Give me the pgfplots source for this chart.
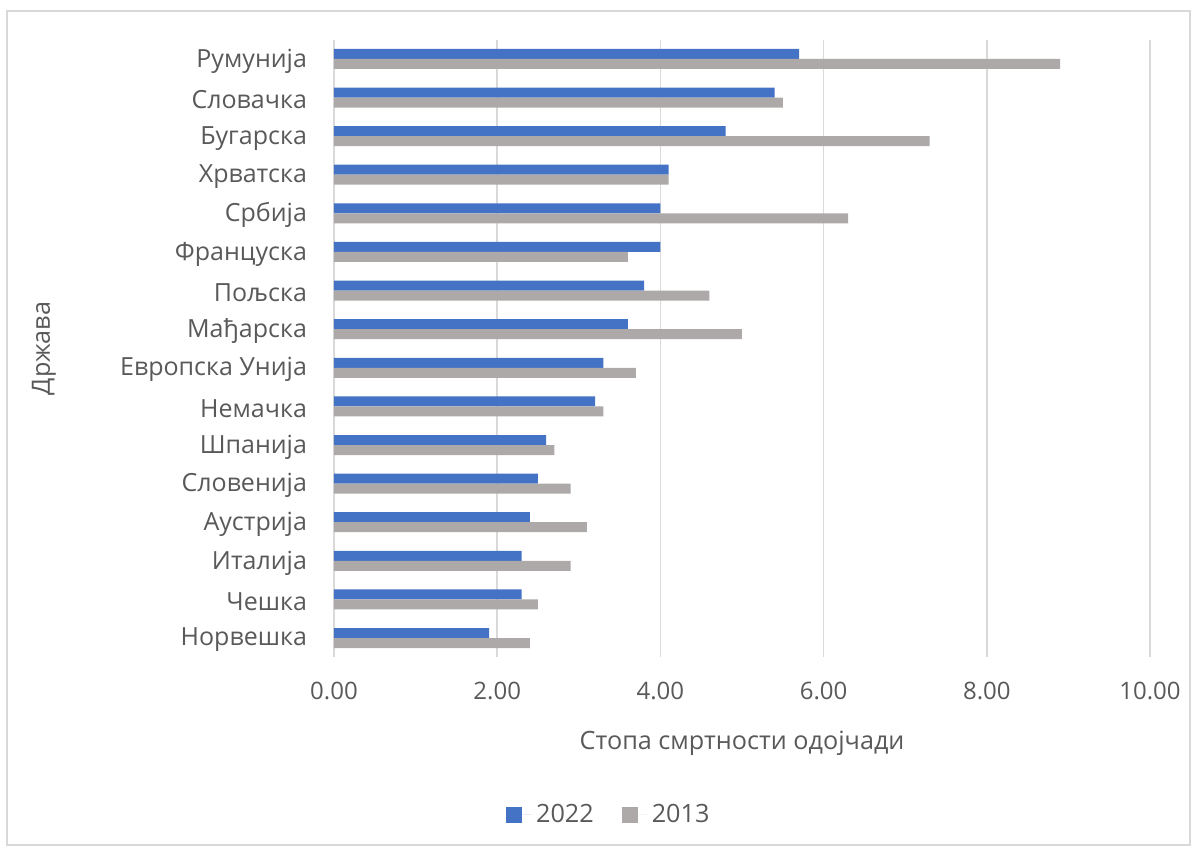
\documentclass[border=0pt]{standalone}
\usepackage{pgfplots}
\pgfplotsset{compat=1.18}
\usepackage{fontspec}
\setmainfont{Open Sans}
\definecolor{blu}{HTML}{4472C4}
\definecolor{gry}{HTML}{ADA9A9}
\definecolor{txt}{HTML}{595959}
\definecolor{grd}{HTML}{D9D9D9}
\begin{document}
\begin{tikzpicture}
\path (-167pt,-96.5pt) rectangle (433pt,328.5pt);
\draw[grd, line width=0.7pt] (-163.5pt,-94pt) rectangle (428pt,323pt);
\begin{axis}[
  scale only axis, width=408pt, height=308.5pt,
  at={(0pt,0pt)}, anchor=south west,
  xbar, bar width=5pt,
  xmin=0, xmax=10, ymin=-0.49, ymax=15.49,
  xtick={0,2,4,6,8,10},
  ytick={0,...,15},
  yticklabels={Норвешка,Чешка,Италија,Аустрија,Словенија,Шпанија,Немачка,Европска Унија,Мађарска,Пољска,Француска,Србија,Хрватска,Бугарска,Словачка,Румунија},
  major tick length=0pt,
  axis line style={draw=none},
  xmajorgrids, major grid style={grd, line width=0.75pt},
  tick label style={text=txt},
  x tick label style={font=\fontsize{12}{14}\selectfont, /pgf/number format/fixed, /pgf/number format/fixed zerofill, /pgf/number format/precision=2, /pgf/number format/assume math mode=true, yshift=-9pt},
  y tick label style={font=\fontsize{12.5}{14}\selectfont, xshift=-10pt, yshift=-1pt},
  xlabel={Стопа смртности одојчади},
  xlabel style={at={(rel axis cs:0.5,0)}, anchor=center, yshift=-43pt, font=\fontsize{12.6}{14}\selectfont, text=txt},
  legend style={draw=none, fill=none, legend columns=2, at={(0.338,-0.256)}, anchor=center,
     font=\fontsize{12.6}{14}\selectfont, text=txt,
     /tikz/every even column/.append style={column sep=12pt}},
  legend image code/.code={\fill[#1] (0pt,-4pt) rectangle (8pt,4pt); \path (0pt,0pt) -- (13pt,0pt);},
]
\addplot[draw=none, fill=blu, bar shift=2.5pt] coordinates {
(1.9,0) (2.3,1) (2.3,2) (2.4,3) (2.5,4) (2.6,5) (3.2,6) (3.3,7) (3.6,8) (3.8,9) (4.0,10) (4.0,11) (4.1,12) (4.8,13) (5.4,14) (5.7,15)};
\addlegendentry{2022}
\addplot[draw=none, fill=gry, bar shift=-2.5pt] coordinates {
(2.4,0) (2.5,1) (2.9,2) (3.1,3) (2.9,4) (2.7,5) (3.3,6) (3.7,7) (5.0,8) (4.6,9) (3.6,10) (6.3,11) (4.1,12) (7.3,13) (5.5,14) (8.9,15)};
\addlegendentry{2013}
\end{axis}
\node[rotate=90, text=txt, font=\fontsize{12.6}{14}\selectfont] at (-145pt,154.25pt) {Држава};
\end{tikzpicture}
\end{document}
